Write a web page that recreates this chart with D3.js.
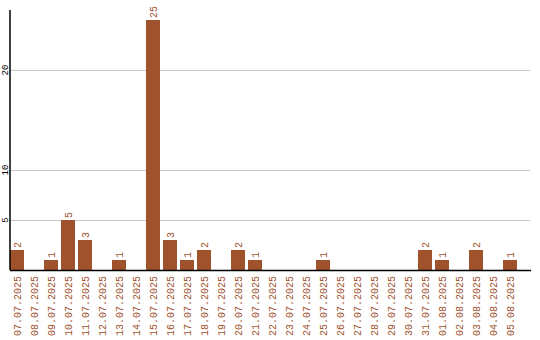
<!DOCTYPE html>
<html>
<head>
<meta charset="utf-8">
<script src="https://cdn.jsdelivr.net/npm/d3@7"></script>
<style>
  body { margin: 0; background: #fff; }
  svg { display: block; }
</style>
</head>
<body>
<div id="chart"></div>
<script>
let dates = ["07.07.2025", "08.07.2025", "09.07.2025", "10.07.2025", "11.07.2025", "12.07.2025",
    "13.07.2025", "14.07.2025", "15.07.2025", "16.07.2025", "17.07.2025", "18.07.2025",
    "19.07.2025", "20.07.2025", "21.07.2025", "22.07.2025", "23.07.2025", "24.07.2025",
    "25.07.2025", "26.07.2025", "27.07.2025", "28.07.2025", "29.07.2025", "30.07.2025",
    "31.07.2025", "01.08.2025", "02.08.2025", "03.08.2025", "04.08.2025", "05.08.2025"];
let counts = [2, 0, 1, 5, 3, 0, 1, 0, 25, 3, 1, 2, 0, 2, 1, 0, 0, 0, 1, 0, 0, 0, 0, 0, 2, 1, 0, 2, 0, 1];
let yTicks = [5, 10, 20];

let width = 540, height = 340;
let brown = "#a0522d";
let mono = "'Liberation Mono', 'Courier New', monospace";

let svg = d3.select("#chart")
    .append("svg")
    .attr("width", width)
    .attr("height", height);

let xScale = d3.scaleBand()
    .domain(dates)
    .range([10, 517])
    .paddingInner(3 / 17)
    .paddingOuter(0);

let yScale = d3.scaleLinear()
    .domain([0, 26])
    .range([270, 10]);

// grid lines
svg.selectAll(".grid")
    .data(yTicks)
    .enter()
    .append("line")
    .attr("x1", 10)
    .attr("x2", 530)
    .attr("y1", d => yScale(d) + 0.5)
    .attr("y2", d => yScale(d) + 0.5)
    .attr("stroke", "#c8c8c8")
    .attr("stroke-width", 1);

// y tick labels
svg.selectAll(".ylab")
    .data(yTicks)
    .enter()
    .append("text")
    .attr("transform", d => "translate(7.5," + yScale(d) + ") rotate(-90)")
    .attr("text-anchor", "middle")
    .style("font-family", mono)
    .style("font-size", "9px")
    .attr("fill", "#000")
    .text(d => d);

// bars
svg.selectAll(".bar")
    .data(dates)
    .enter()
    .filter((d, i) => counts[i] > 0)
    .append("rect")
    .attr("x", d => xScale(d))
    .attr("y", (d) => yScale(counts[dates.indexOf(d)]))
    .attr("width", xScale.bandwidth())
    .attr("height", d => yScale(0) - yScale(counts[dates.indexOf(d)]))
    .attr("fill", brown);

// value labels
svg.selectAll(".val")
    .data(dates)
    .enter()
    .filter((d, i) => counts[i] > 0)
    .append("text")
    .attr("transform", d => "translate(" + (xScale(d) + xScale.bandwidth() / 2 + 3.5) + "," + (yScale(counts[dates.indexOf(d)]) - 2) + ") rotate(-90)")
    .attr("text-anchor", "start")
    .style("font-family", mono)
    .style("font-size", "10px")
    .attr("fill", brown)
    .text(d => counts[dates.indexOf(d)]);

// axes lines
svg.append("line")
    .attr("x1", 10).attr("x2", 10)
    .attr("y1", 10).attr("y2", 270)
    .attr("stroke", "#000").attr("stroke-width", 1.5);

svg.append("line")
    .attr("x1", 10).attr("x2", 531)
    .attr("y1", 270.5).attr("y2", 270.5)
    .attr("stroke", "#000").attr("stroke-width", 1.5);

// x labels
svg.selectAll(".xlab")
    .data(dates)
    .enter()
    .append("text")
    .attr("transform", d => "translate(" + (xScale(d) + xScale.bandwidth() / 2 + 3.5) + ",276) rotate(-90)")
    .attr("text-anchor", "end")
    .style("font-family", mono)
    .style("font-size", "10px")
    .attr("fill", brown)
    .text(d => d);
</script>
</body>
</html>
